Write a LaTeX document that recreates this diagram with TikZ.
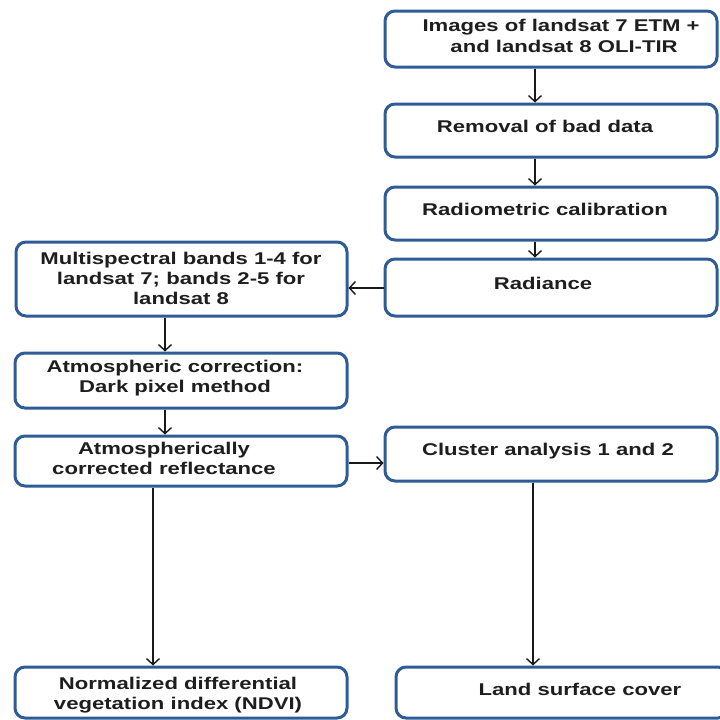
\documentclass[tikz,border=0pt]{standalone}
\usepackage{fontspec}
\setmainfont{Liberation Sans}
\usetikzlibrary{arrows.meta}
\definecolor{boxblue}{HTML}{2F5B97}
\definecolor{txtgray}{HTML}{1E1E1E}
\newcommand{\btxt}[1]{\scalebox{1.3}[1]{\begin{tabular}{@{}c@{}}#1\end{tabular}}}
\begin{document}
\begin{tikzpicture}[x=1pt,y=-1pt,
  box/.style={draw=boxblue, line width=3pt, rounded corners=10pt, fill=white, inner sep=0pt, rectangle},
  txt/.style={inner sep=0pt, text=txtgray, font=\fontsize{17}{20}\selectfont\bfseries},
  arr/.style={draw=black!90, line width=1.4pt, -{Straight Barb[length=6pt,width=13pt,line width=1.4pt]}}]
\useasboundingbox[fill=white] (0,0) rectangle (720,720);
% boxes
\node[box, minimum width=332pt, minimum height=56pt] (img) at (551,39) {};
\node[box, minimum width=332pt, minimum height=53pt] (rem) at (551,130.5) {};
\node[box, minimum width=332pt, minimum height=53pt] (rad) at (551,213.5) {};
\node[box, minimum width=332pt, minimum height=57pt] (radi) at (551,287.5) {};
\node[box, minimum width=331pt, minimum height=74pt] (multi) at (181.5,279) {};
\node[box, minimum width=332pt, minimum height=55pt] (atm) at (181,380.5) {};
\node[box, minimum width=332pt, minimum height=50pt] (atmc) at (181,461) {};
\node[box, minimum width=332pt, minimum height=54pt] (clus) at (551,454) {};
\node[box, minimum width=332pt, minimum height=51pt] (ndvi) at (181,692.5) {};
\node[box, minimum width=332pt, minimum height=51pt] (land) at (562,692.5) {};
% texts
\node[txt] (imgT) at (561,38) {\btxt{Images of landsat 7 ETM +\\\ and landsat 8 OLI-TIR}};
\node[txt] (remT) at (545,128) {\btxt{Removal of bad data}};
\node[txt] (radT) at (545,211) {\btxt{Radiometric calibration}};
\node[txt] (radiT) at (543,285) {\btxt{Radiance}};
\node[txt] (multiT) at (181,280) {\btxt{Multispectral bands 1-4 for\\landsat 7; bands 2-5 for\\landsat 8}};
\node[txt] (atmT) at (175,378) {\btxt{Atmospheric correction:\\Dark pixel method}};
\node[txt] (atmcT) at (164,460) {\btxt{Atmospherically\\corrected reflectance}};
\node[txt] (clusT) at (548,451) {\btxt{Cluster analysis 1 and 2}};
\node[txt] (ndviT) at (178,695) {\btxt{Normalized differential\\vegetation index (NDVI)}};
\node[txt] (landT) at (580,691) {\btxt{Land surface cover}};
% columns
\coordinate (cR) at (535,0);
\coordinate (cL) at (165,0);
\coordinate (cN) at (153,0);
\coordinate (cC) at (533,0);
\coordinate (rA) at (0,288);
\coordinate (rB) at (0,463);
% connectors
\draw[arr] (img.south -| cR) -- (rem.north -| cR);
\draw[arr] (rem.south -| cR) -- (rad.north -| cR);
\draw[arr] (rad.south -| cR) -- (radi.north -| cR);
\draw[arr] (radi.west |- rA) -- (multi.east |- rA);
\draw[arr] (multi.south -| cL) -- (atm.north -| cL);
\draw[arr] (atm.south -| cL) -- (atmc.north -| cL);
\draw[arr] (atmc.east |- rB) -- (clus.west |- rB);
\draw[arr] (atmc.south -| cN) -- (ndvi.north -| cN);
\draw[arr] (clus.south -| cC) -- (land.north -| cC);
\end{tikzpicture}
\end{document}
